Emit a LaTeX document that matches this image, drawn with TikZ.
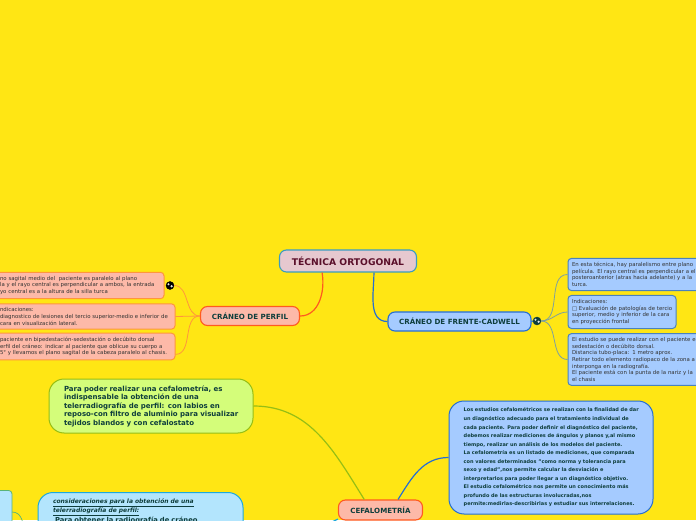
\documentclass[tikz,border=0pt]{standalone}
\usepackage{fontspec}
\setmainfont{DejaVu Sans}
\usetikzlibrary{arrows.meta,calc}
\definecolor{pagefill}{RGB}{255,230,20}
\definecolor{rootpale}{RGB}{230,200,207}
\definecolor{peachpale}{RGB}{253,185,168}
\definecolor{bluepale}{RGB}{165,203,255}
\definecolor{greenpale}{RGB}{212,253,122}
\definecolor{cyanpale}{RGB}{179,229,253}
\definecolor{rootline}{RGB}{58,156,192}
\definecolor{redline}{RGB}{255,90,31}
\definecolor{orangeline}{RGB}{255,150,60}
\definecolor{blueline}{RGB}{38,110,210}
\definecolor{greyline}{RGB}{125,160,160}
\definecolor{greenline}{RGB}{150,190,20}
\definecolor{cyanline}{RGB}{29,169,220}
\definecolor{titleink}{RGB}{14,62,60}
\definecolor{rootink}{RGB}{90,15,42}
\definecolor{noteink}{RGB}{50,50,50}
\tikzset{
  title/.style={draw,line width=1.1pt,rounded corners=7pt,align=center,font=\fontsize{7.1}{8}\selectfont\bfseries,text=titleink,inner sep=0pt},
  notebox/.style={draw,line width=1pt,rounded corners=3.5pt,align=left,inner sep=4pt},
  peachnote/.style={notebox,fill=peachpale,draw=orangeline,text=noteink,font=\fontsize{5.4}{6.6}\selectfont},
  bluenote/.style={notebox,fill=bluepale,draw=blueline!60!greyline,text=noteink,font=\fontsize{5.4}{6.6}\selectfont},
  bigbox/.style={draw,line width=1pt,rounded corners=15pt,align=left,inner ysep=0pt,text=titleink},
  earth/.style={circle,draw=#1,line width=.4pt,fill=#1,minimum size=8pt,inner sep=0pt,
    path picture={\fill[white!80!gray] ($(path picture bounding box.center)+(-1.5pt,1.2pt)$) circle (1.1pt);
      \fill[white!80!gray] ($(path picture bounding box.center)+(1.6pt,-.8pt)$) circle (1.3pt);}},
  link/.style={line width=1.2pt}
}
\begin{document}
\begin{tikzpicture}[x=1pt,y=1pt]
  \useasboundingbox[fill=pagefill] (0,0) rectangle (696,520);

  \node[title,fill=rootpale,draw=rootline,minimum width=137pt,minimum height=22pt,text=rootink,font=\fontsize{9.2}{10}\selectfont\bfseries] (root) at (348,259) {TÉCNICA ORTOGONAL};
  \node[title,fill=peachpale,draw=redline,minimum width=99pt,minimum height=19pt] (perfil) at (250,204) {CRÁNEO DE PERFIL};
  \node[title,fill=bluepale,draw=blueline,minimum width=143pt,minimum height=19pt] (frente) at (459.5,198.5) {CRÁNEO DE FRENTE-CADWELL};
  \node[title,fill=peachpale,draw=redline,minimum width=84pt,minimum height=20pt] (cefalo) at (380.5,10) {CEFALOMETRÍA};

  \node[peachnote,text width=160pt,minimum height=25pt] (peachone) at (80,234.5)
    {no sagital medio del\ \ paciente es paralelo al plano\\
     la y el rayo central es perpendicular a ambos, la entrada\\
     yo central es a la altura de la silla turca};
  \node[peachnote,text width=171pt,minimum height=25pt] (peachtwo) at (85.5,203.5)
    {ndicaciones:\\
     diagnostico de lesiones del tercio superior-medio e inferior de\\
     cara en visualización lateral.};
  \node[peachnote,text width=171pt,minimum height=25pt] (peachthree) at (85.5,173.5)
    {paciente en bipedestación-sedestación o decúbito dorsal\\
     erfil del cráneo: indicar al paciente que oblicue su cuerpo a\\
     5° y llevamos el plano sagital de la cabeza paralelo al chasis.};
  \node[earth=black] (earthperfil) at (170,234.5) {};

  \node[bluenote,text width=152pt,minimum height=31pt] (blueone) at (648,245.5)
    {En esta técnica, hay paralelismo entre plano\\
     película. El rayo central es perpendicular a el\\
     posteroanterior (atras hacia adelante) y a la\\
     turca.};
  \node[bluenote,text width=102pt,inner xsep=3pt,minimum height=32pt] (bluetwo) at (622,208)
    {\hspace*{1pt}Indicaciones:\\
     \hspace*{1pt}□ Evaluación de patologías de tercio\\
     \hspace*{1pt}superior, medio y inferior de la cara\\
     \hspace*{1pt}en proyección frontal};
  \node[bluenote,text width=152pt,minimum height=51pt] (bluethree) at (648,160.5)
    {El estudio se puede realizar con el paciente e\\
     sedestación o decúbito dorsal.\\
     Distancia tubo-placa: 1 metro aprox.\\
     Retirar todo elemento radiopaco de la zona a\\
     interponga en la radiografía.\\
     El paciente está con la punta de la nariz y la\\
     el chasis};
  \node[earth=titleink] (earthfrente) at (537,199) {};

  \node[bigbox,fill=bluepale,draw=blueline,text width=178pt,inner xsep=13pt,minimum height=113pt,font=\fontsize{5}{8.55}\selectfont\bfseries] (estudios) at (551,62.5)
    {\ Los estudios cefalométricos se realizan con la finalidad de dar\\
     \ un diagnóstico adecuado para el tratamiento individual de\\
     \ cada paciente. Para poder definir el diagnóstico del paciente,\\
     \ debemos realizar mediciones de ángulos y planos y,al mismo\\
     \ tiempo, realizar un análisis de los modelos del paciente.\\
     \ La cefalometría es un listado de mediciones, que comparada\\
     \ con valores determinados "como norma y tolerancia para\\
     \ sexo y edad",nos permite calcular la desviación e\\
     \ interpretarlos para poder llegar a un diagnóstico objetivo.\\
     \ El estudio cefalométrico nos permite un conocimiento más\\
     \ profundo de las estructuras involucradas,nos\\
     \ permite:medirlas-describirlas y estudiar sus interrelaciones.};
  \node[bigbox,fill=greenpale,draw=greenline,text width=178pt,inner xsep=13pt,minimum height=54pt,font=\fontsize{7}{8.5}\selectfont\bfseries] (radio) at (151,114)
    {\hspace*{2pt}Para poder realizar una cefalometría, es\\
     \hspace*{2pt}indispensable la obtención de una\\
     \hspace*{2pt}telerradiografía de perfil: con labios en\\
     \hspace*{2pt}reposo-con filtro de aluminio para visualizar\\
     \hspace*{2pt}tejidos blandos y con cefalostato};
  \node[bigbox,fill=cyanpale,draw=cyanline,text width=175pt,inner xsep=15pt,inner ysep=6pt,text depth=110pt,anchor=north,font=\fontsize{6}{8}\selectfont\bfseries] (consid) at (140.5,28)
    {\underline{\itshape consideraciones para la obtención de una}\\
     \underline{\itshape telerradiografía de perfil:}\\
     {\fontsize{6.8}{8}\selectfont\ Para obtener la radiografía de cráneo}};
  \node[draw=cyanline!50!greenline,line width=.8pt,fill=cyanpale,rounded corners=3.5pt,minimum width=32pt,minimum height=120pt,anchor=north] (tabla) at (-4,30) {};
  \coordinate (tablaout) at (12,8);

  \draw[link,redline] (root.204) to[out=-80,in=0] (perfil.east);
  \draw[link,blueline] (root.-24) to[out=-90,in=180] (frente.west);
  \draw[link,greenline] (radio.east) to[out=0,in=122] (cefalo.147);
  \draw[link,blueline] (cefalo.31) to[out=58,in=180] (estudios.west);
  \draw[link,cyanline] (cefalo.192) to[out=205,in=0] (consid.east);

  \draw[link,orangeline,line width=.8pt] (perfil.west) to[out=180,in=0] (earthperfil.east);
  \draw[link,orangeline,line width=.8pt] (perfil.west) -- (peachtwo.east);
  \draw[link,orangeline,line width=.8pt] (perfil.west) to[out=180,in=0] (peachthree.-5);

  \draw[link,blueline] (frente.east) -- (earthfrente.west);
  \draw[link,greyline,line width=.8pt] (earthfrente.east) to[out=0,in=180] (blueone.west);
  \draw[link,greyline,line width=.8pt] (earthfrente.east) to[out=0,in=180] (bluetwo.west);
  \draw[link,greyline,line width=.8pt] (earthfrente.east) to[out=0,in=180] (bluethree.west);

  \draw[link,cyanline!50!greenline,line width=.7pt] (tablaout) to[out=0,in=180] (consid.west);
\end{tikzpicture}
\end{document}
